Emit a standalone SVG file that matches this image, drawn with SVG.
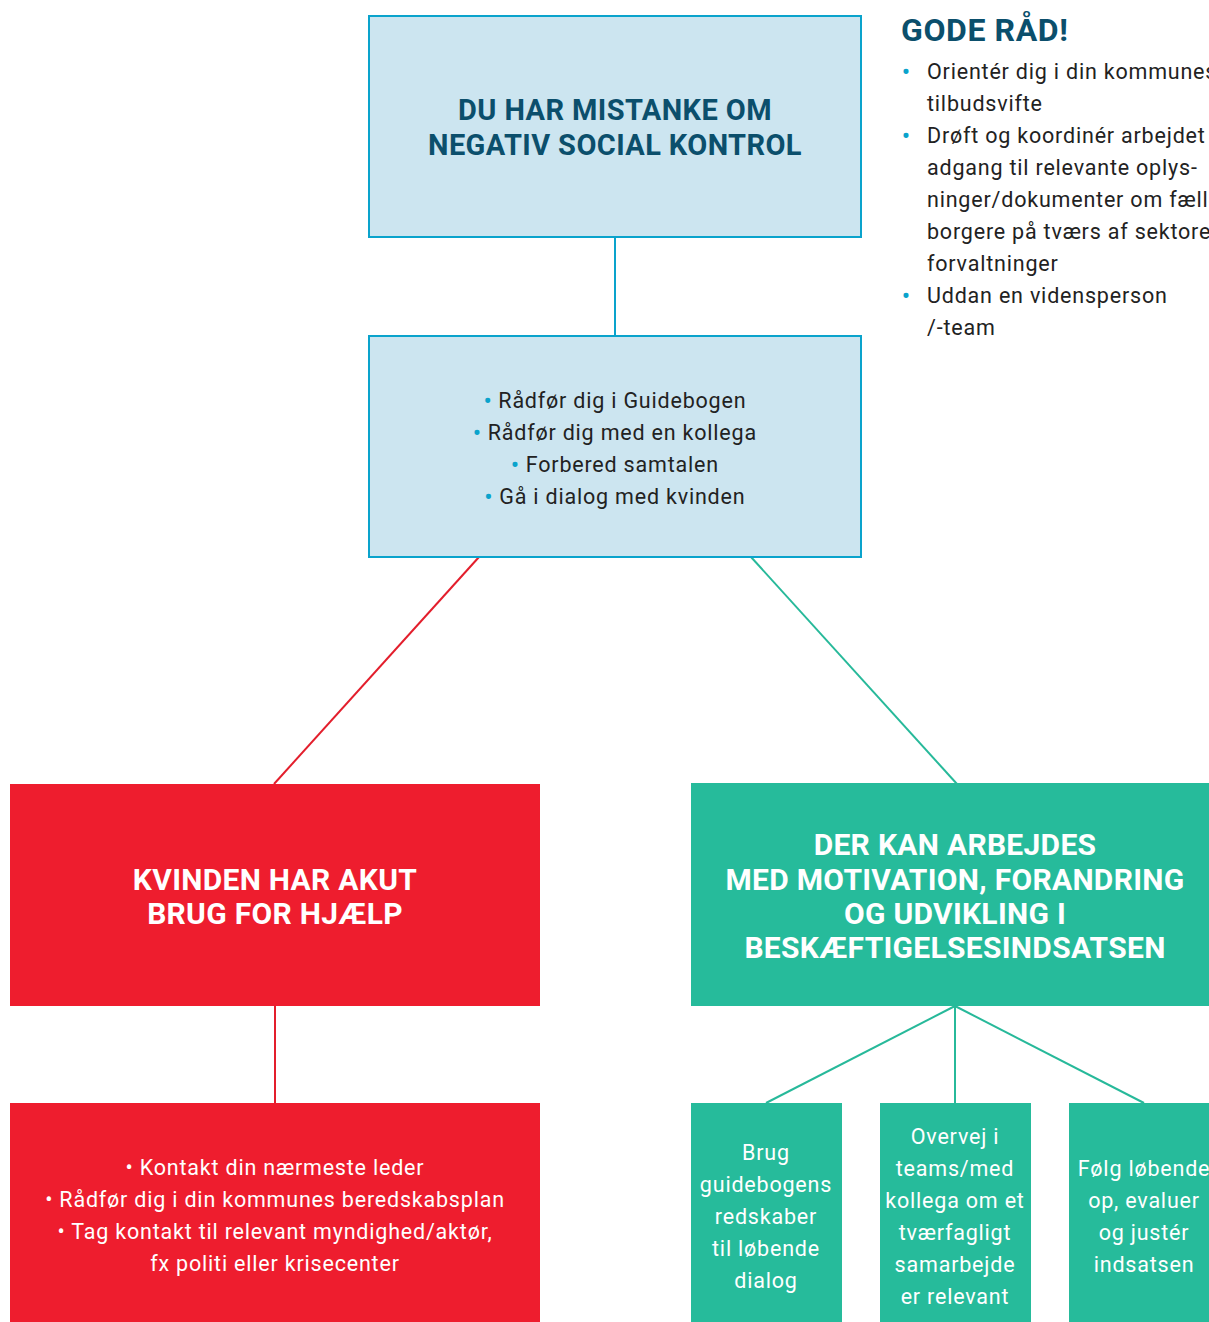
<svg xmlns="http://www.w3.org/2000/svg" width="1209" height="1322" viewBox="0 0 1209 1322">
<style>
.title{font-family:Roboto,"Liberation Sans",sans-serif;font-weight:700;font-size:30px;letter-spacing:0.3px;text-anchor:middle}
.top{font-size:29px;letter-spacing:0.4px}
.body{font-family:Roboto,"Liberation Sans",sans-serif;font-size:21.5px;letter-spacing:0.8px}
.mid{text-anchor:middle}
.dark{fill:#0b4f6c}
.wh{fill:#ffffff}
.tx{fill:#222222}
.bl{fill:#0aa3cc;font-weight:700}
.con{fill:none;stroke-width:2}
</style>
<rect width="1209" height="1322" fill="#ffffff"/>
<g id="connectors">
<line class="con" x1="615" y1="237" x2="615" y2="336" stroke="#0aa3cc"/>
<line class="con" x1="479" y1="557" x2="274" y2="784" stroke="#e31e2c"/>
<line class="con" x1="751" y1="557" x2="957" y2="784" stroke="#27b99a"/>
<line class="con" x1="275" y1="1006" x2="275" y2="1103" stroke="#e31e2c"/>
<line class="con" x1="955" y1="1006" x2="766" y2="1103" stroke="#27b99a"/>
<line class="con" x1="955" y1="1006" x2="955" y2="1103" stroke="#27b99a"/>
<line class="con" x1="955" y1="1006" x2="1144" y2="1103" stroke="#27b99a"/>
</g>
<g id="n-mistanke">
<rect x="369" y="16" width="492" height="221" fill="#cce5f0" stroke="#0aa3cc" stroke-width="2"/>
<text class="title top dark" x="615" y="120">DU HAR MISTANKE OM</text>
<text class="title top dark" x="615" y="155">NEGATIV SOCIAL KONTROL</text>
</g>
<g id="n-raad">
<rect x="369" y="336" width="492" height="221" fill="#cce5f0" stroke="#0aa3cc" stroke-width="2"/>
<text class="body mid tx" x="615" y="408"><tspan class="bl">• </tspan>Rådfør dig i Guidebogen</text>
<text class="body mid tx" x="615" y="440"><tspan class="bl">• </tspan>Rådfør dig med en kollega</text>
<text class="body mid tx" x="615" y="472"><tspan class="bl">• </tspan>Forbered samtalen</text>
<text class="body mid tx" x="615" y="504"><tspan class="bl">• </tspan>Gå i dialog med kvinden</text>
</g>
<g id="n-gode">
<text x="901" y="41" font-family="Roboto,'Liberation Sans',sans-serif" font-weight="700" font-size="32" letter-spacing="0.6" class="dark">GODE RÅD!</text>
<g class="body tx">
<text x="902" y="79" class="bl">•</text>
<text x="927" y="79">Orientér dig i din kommunes</text>
<text x="927" y="111">tilbudsvifte</text>
<text x="902" y="143" class="bl">•</text>
<text x="927" y="143">Drøft og koordinér arbejdet</text>
<text x="927" y="175">adgang til relevante oplys-</text>
<text x="927" y="207">ninger/dokumenter om fælles</text>
<text x="927" y="239">borgere på tværs af sektorer</text>
<text x="927" y="271">forvaltninger</text>
<text x="902" y="303" class="bl">•</text>
<text x="927" y="303">Uddan en vidensperson</text>
<text x="927" y="335">/-team</text>
</g>
</g>
<g id="n-akut">
<rect x="10" y="784" width="530" height="222" fill="#ee1d2e"/>
<text class="title wh" x="275" y="890">KVINDEN HAR AKUT</text>
<text class="title wh" x="275" y="924">BRUG FOR HJÆLP</text>
</g>
<g id="n-motivation">
<rect x="691" y="783" width="518" height="223" fill="#26bb9b"/>
<text class="title wh" x="955" y="855">DER KAN ARBEJDES</text>
<text class="title wh" x="955" y="890">MED MOTIVATION, FORANDRING</text>
<text class="title wh" x="955" y="924">OG UDVIKLING I</text>
<text class="title wh" x="955" y="958">BESKÆFTIGELSESINDSATSEN</text>
</g>
<g id="n-akut-handling">
<rect x="10" y="1103" width="530" height="219" fill="#ee1d2e"/>
<g class="body mid wh">
<text x="275" y="1175">• Kontakt din nærmeste leder</text>
<text x="275" y="1207">• Rådfør dig i din kommunes beredskabsplan</text>
<text x="275" y="1239">• Tag kontakt til relevant myndighed/aktør,</text>
<text x="275" y="1271">fx politi eller krisecenter</text>
</g>
</g>
<g id="n-brug">
<rect x="691" y="1103" width="151" height="219" fill="#26bb9b"/>
<g class="body mid wh">
<text x="766" y="1160">Brug</text>
<text x="766" y="1192">guidebogens</text>
<text x="766" y="1224">redskaber</text>
<text x="766" y="1256">til løbende</text>
<text x="766" y="1288">dialog</text>
</g>
</g>
<g id="n-overvej">
<rect x="880" y="1103" width="151" height="219" fill="#26bb9b"/>
<g class="body mid wh">
<text x="955" y="1144">Overvej i</text>
<text x="955" y="1176">teams/med</text>
<text x="955" y="1208">kollega om et</text>
<text x="955" y="1240">tværfagligt</text>
<text x="955" y="1272">samarbejde</text>
<text x="955" y="1304">er relevant</text>
</g>
</g>
<g id="n-foelg">
<rect x="1069" y="1103" width="151" height="219" fill="#26bb9b"/>
<g class="body mid wh">
<text x="1144" y="1176">Følg løbende</text>
<text x="1144" y="1208">op, evaluer</text>
<text x="1144" y="1240">og justér</text>
<text x="1144" y="1272">indsatsen</text>
</g>
</g>
</svg>
